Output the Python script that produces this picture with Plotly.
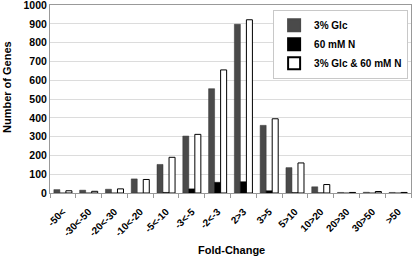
import plotly.graph_objects as go

categories = ["-50<", "-30<-50", "-20<-30", "-10<-20", "-5<-10", "-3<-5", "-2<-3",
              "2>3", "3>5", "5>10", "10>20", "20>30", "30>50", ">50"]
glc = [18, 15, 20, 75, 152, 303, 555, 898, 360, 135, 33, 3, 4, 3]
nitro = [0, 0, 0, 0, 3, 22, 57, 60, 12, 2, 1, 0, 0, 0]
both = [12, 9, 22, 72, 190, 312, 655, 922, 395, 160, 45, 3, 8, 3]
y_ticks = list(range(0, 1001, 100))

FAM = "Liberation Sans, Arial, sans-serif"
L, R, T, B, W, H = 50, 5, 5, 65, 416, 258
PW, PH = W - L - R, H - T - B

fig = go.Figure()
fig.add_bar(x=categories, y=glc, name="3% Glc", showlegend=False,
            marker=dict(color="#4a4a4a", line=dict(color="#333333", width=0.5)))
fig.add_bar(x=categories, y=nitro, name="60 mM N", showlegend=False,
            marker=dict(color="#000000", line=dict(color="#000000", width=0.5)))
fig.add_bar(x=categories, y=both, name="3% Glc & 60 mM N", showlegend=False,
            marker=dict(color="#ffffff", line=dict(color="#000000", width=1)))

# legend entries with small square markers
for name, col, lc in [("3% Glc", "#4a4a4a", "#4a4a4a"),
                      ("60 mM N", "#000000", "#000000"),
                      ("3% Glc & 60 mM N", "#ffffff", "#000000")]:
    fig.add_scatter(x=[None], y=[None], mode="markers", name="<b>" + name + "</b>",
                    marker=dict(symbol="square", size=7, color=col, line=dict(color=lc, width=1)))

fig.update_layout(
    width=W, height=H,
    margin=dict(l=L, r=R, t=T, b=B, autoexpand=False),
    paper_bgcolor="white", plot_bgcolor="white",
    barmode="group", bargap=0.3, bargroupgap=0,
    font=dict(family=FAM, size=10, color="#000000"),
    showlegend=True,
    legend=dict(x=0.992, y=0.975, xanchor="right", yanchor="top",
                bgcolor="white", bordercolor="#c8c8c8", borderwidth=1,
                font=dict(family=FAM, size=10, color="#000000"),
                itemwidth=30, tracegroupgap=0, itemsizing="constant"),
    xaxis=dict(
        type="category", tickson="boundaries", ticks="outside", ticklen=4,
        tickcolor="#999999", tickangle=-45, ticklabelstandoff=8, automargin=False,
        ticklabeloverflow="allow",
        tickfont=dict(family=FAM, size=10, weight="bold"),
        showline=True, linecolor="#999999", mirror=True, showgrid=False,
    ),
    yaxis=dict(
        range=[0, 1000.5], tickvals=y_ticks, ticks="", ticklabeloverflow="allow",
        automargin=False,
        tickfont=dict(family=FAM, size=10.5, weight="bold"),
        showline=True, linecolor="#999999", mirror=True,
        showgrid=True, gridcolor="#dcdcdc", gridwidth=1, zeroline=False,
    ),
    annotations=[
        dict(text="Number of Genes", textangle=-90, showarrow=False,
             xref="paper", yref="paper",
             x=(7 - L) / PW, y=(H - B - 87) / PH, xanchor="center", yanchor="middle",
             font=dict(family=FAM, size=11, weight="bold", color="#000000")),
        dict(text="Fold-Change", showarrow=False,
             xref="paper", yref="paper",
             x=(232 - L) / PW, y=(H - B - 250) / PH, xanchor="center", yanchor="middle",
             font=dict(family=FAM, size=11, weight="bold", color="#000000")),
    ],
)

fig.write_html("out.html", config={"displayModeBar": False},
               post_script="document.body.style.margin='0px';")
